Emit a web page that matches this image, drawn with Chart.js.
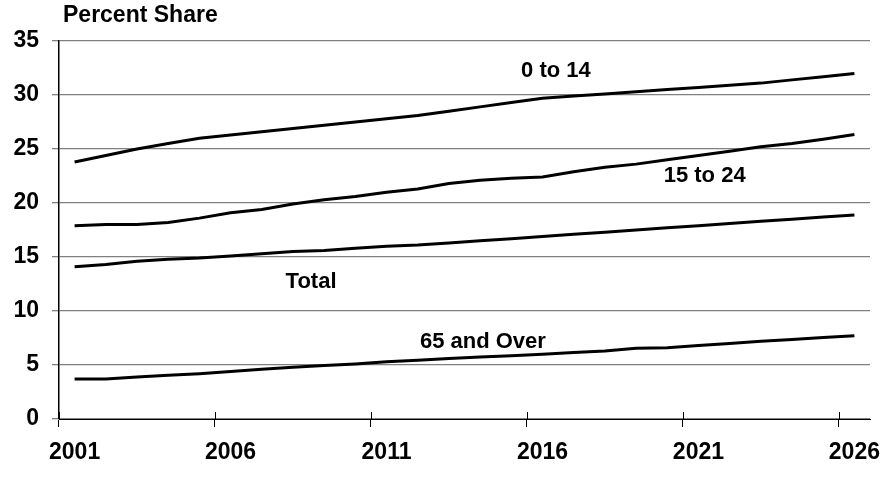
<!DOCTYPE html>
<html>
<head>
<meta charset="utf-8">
<script src="https://cdn.jsdelivr.net/npm/chart.js@4"></script>
<style>
  html, body { margin: 0; padding: 0; background: #fff; }
  #wrap { width: 883px; height: 477px; }
</style>
</head>
<body>
<div id="wrap"><canvas id="chart" width="883" height="477"></canvas></div>
<script>
// --- Data (percent share of population) ---
const years = [];
for (let y = 2001; y <= 2026; y++) years.push(String(y));

const share0to14 = [23.8, 24.4, 25.0, 25.5, 26.0, 26.3, 26.6, 26.9, 27.2, 27.5, 27.8, 28.1, 28.5,
                    28.9, 29.3, 29.7, 29.9, 30.1, 30.3, 30.5, 30.7, 30.9, 31.1, 31.4, 31.7, 32.0];
const share15to24 = [17.9, 18.0, 18.0, 18.2, 18.6, 19.1, 19.4, 19.9, 20.3, 20.6, 21.0, 21.3, 21.8,
                     22.1, 22.3, 22.4, 22.9, 23.3, 23.6, 24.0, 24.4, 24.8, 25.2, 25.5, 25.9, 26.35];
const shareTotal = [14.1, 14.3, 14.6, 14.8, 14.9, 15.1, 15.3, 15.5, 15.6, 15.8, 16.0, 16.1, 16.3,
                    16.5, 16.7, 16.9, 17.1, 17.3, 17.5, 17.7, 17.9, 18.1, 18.3, 18.5, 18.7, 18.9];
const share65plus = [3.7, 3.7, 3.9, 4.05, 4.2, 4.4, 4.6, 4.8, 4.95, 5.1, 5.3, 5.45, 5.6,
                     5.75, 5.85, 6.0, 6.15, 6.3, 6.55, 6.6, 6.8, 7.0, 7.2, 7.35, 7.55, 7.7];

const seriesNames = ['0 to 14', '15 to 24', 'Total', '65 and Over'];

const FONT = '"Liberation Sans", Arial, sans-serif';

// series labels placed in data space: [name, category index, value]
const labelSpots = [
    ['0 to 14', 15.43, 32.2],
    ['15 to 24', 20.2, 22.5],
    ['Total', 7.58, 12.7],
    ['65 and Over', 13.09, 7.1]
];

// --- Plugin: title, series labels, inner half of x tick marks ---
const extras = {
    id: 'extras',
    afterDraw(chart) {
        const ctx = chart.ctx;
        const xs = chart.scales.x;
        const ys = chart.scales.y;
        ctx.save();

        // tick marks crossing the x axis (inner part)
        const step = xs.width / years.length;
        ctx.strokeStyle = '#000';
        ctx.lineWidth = 1;
        for (let i = 0; i <= years.length; i += 5) {
            const px = Math.round(xs.left + i * step) + 0.5;
            ctx.beginPath();
            ctx.moveTo(px, ys.bottom - 7);
            ctx.lineTo(px, ys.bottom);
            ctx.stroke();
        }

        ctx.fillStyle = '#000';
        ctx.textBaseline = 'middle';

        // axis title
        ctx.font = 'bold 23px ' + FONT;
        ctx.textAlign = 'left';
        ctx.fillText('Percent Share', 63, 16);

        // series labels
        ctx.font = 'bold 22px ' + FONT;
        ctx.textAlign = 'center';
        labelSpots.forEach(([txt, idx, val]) => {
            ctx.fillText(txt, xs.getPixelForValue(idx), ys.getPixelForValue(val));
        });
        ctx.restore();
    }
};

function makeSet(label, data) {
    return {
        label: label,
        data: data,
        borderColor: '#000',
        borderWidth: 3,
        pointRadius: 0,
        tension: 0,
        fill: false
    };
}

new Chart(document.getElementById('chart').getContext('2d'), {
    type: 'line',
    data: {
        labels: years,
        datasets: [
            makeSet(seriesNames[0], share0to14),
            makeSet(seriesNames[1], share15to24),
            makeSet(seriesNames[2], shareTotal),
            makeSet(seriesNames[3], share65plus)
        ]
    },
    options: {
        responsive: false,
        animation: false,
        devicePixelRatio: 1,
        layout: { padding: { top: 41, right: 13, left: 0, bottom: 0 } },
        plugins: {
            legend: { display: false },
            title: { display: false },
            tooltip: { enabled: false }
        },
        scales: {
            x: {
                type: 'category',
                offset: true,
                afterFit: s => {
                    s.height = 58;
                    s.paddingLeft = 0;
                    s.paddingRight = 0;
                },
                border: { color: '#000', width: 1 },
                grid: {
                    offset: true,
                    drawOnChartArea: false,
                    tickLength: 8,
                    color: c => (c.index % 5 === 0 ? '#000' : 'rgba(0,0,0,0)'),
                    tickColor: c => (c.index % 5 === 0 ? '#000' : 'rgba(0,0,0,0)')
                },
                ticks: {
                    autoSkip: false,
                    maxRotation: 0,
                    padding: 12,
                    color: '#000',
                    font: { family: FONT, size: 23, weight: 'bold' },
                    callback: function (val, i) { return i % 5 === 0 ? years[i] : ''; }
                }
            },
            y: {
                min: 0,
                max: 35,
                afterFit: s => {
                    s.width = 59;
                    s.paddingTop = 0;
                    s.paddingBottom = 0;
                },
                border: { color: '#000', width: 1.5 },
                grid: {
                    color: '#808080',
                    lineWidth: 1.3,
                    tickLength: 7,
                    tickColor: '#808080'
                },
                ticks: {
                    stepSize: 5,
                    padding: 13,
                    color: '#000',
                    font: { family: FONT, size: 23, weight: 'bold' }
                }
            }
        }
    },
    plugins: [extras]
});
</script>
</body>
</html>
